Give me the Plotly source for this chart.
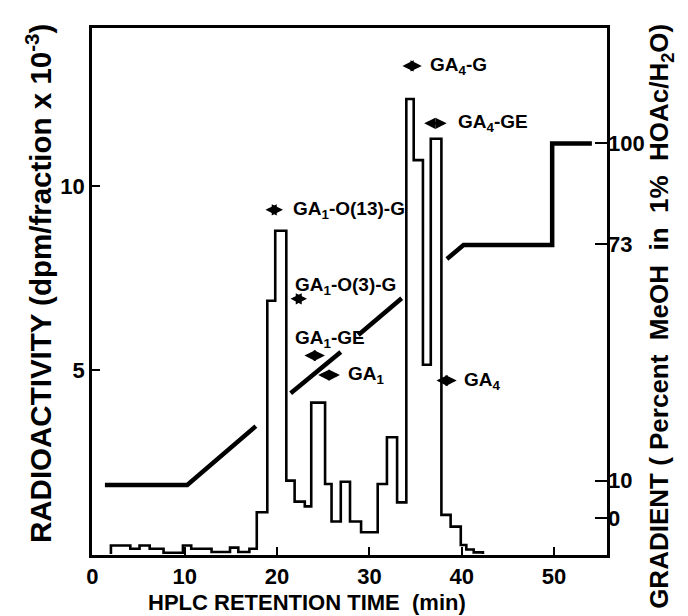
import plotly.graph_objects as go

# Histogram of radioactivity (fraction edges in min, values in dpm/fraction x 10^-3)
bin_edges = [2.0, 4.1, 5.1, 6.2, 7.7, 9.8, 10.7, 12.9, 14.9, 15.8, 17.0, 17.8, 18.94,
             19.8, 21.0, 21.9, 23.0, 23.7, 25.2, 25.9, 26.9, 27.9, 29.1, 30.9, 31.9,
             33.0, 34.0, 34.8, 35.8, 36.65, 37.8, 38.8, 39.9, 40.5, 41.3, 42.3]
radio_values = [0.23, 0.14, 0.23, 0.14, 0.03, 0.23, 0.14, 0.05, 0.17, 0.05, 0.14, 1.13,
                6.88, 8.78, 1.99, 1.42, 1.29, 4.11, 1.90, 0.88, 1.96, 0.88, 0.59, 1.90,
                3.17, 1.40, 12.36, 10.7, 5.14, 11.28, 1.06, 0.74, 0.24, 0.12, 0.04]

# Gradient line (percent MeOH), drawn in broken segments
grad_time = [1.35, 10.27, 17.7, None, 21.47, 26.9, None, 28.8, 33.5, None,
             38.4, 40.2, 49.8, 49.8, 54.1]
grad_pct = [8.8, 8.8, 24.5, None, 33.25, 44.3, None, 48.8, 58.6, None,
            69.1, 72.8, 72.8, 99.9, 99.9]

x_ticks = [0, 10, 20, 30, 40, 50]
left_ticks = [5, 10]
right_ticks = [0, 10, 73, 100]

FONT = "Liberation Sans"

hx = [bin_edges[0]] + bin_edges
hy = [0] + radio_values + [0]

fig = go.Figure()
fig.add_trace(go.Scatter(x=hx, y=hy, mode="lines", line=dict(color="black", width=2.6, shape="hv"),
                         showlegend=False, hoverinfo="skip"))
fig.add_trace(go.Scatter(x=grad_time, y=grad_pct, yaxis="y2", mode="lines",
                         line=dict(color="black", width=4.5), connectgaps=False,
                         showlegend=False, hoverinfo="skip"))

labels = [
    # text, arrow x0, x1, arrow y, text x, text y
    ("GA<sub>1</sub>-O(13)-G", 18.58, 20.64, 9.35, 21.5, 9.35),
    ("GA<sub>1</sub>-O(3)-G", 21.29, 23.24, 6.93, 21.72, 7.28),
    ("GA<sub>1</sub>-GE", 22.8, 25.19, 5.39, 21.69, 5.83),
    ("GA<sub>1</sub>", 24.29, 26.81, 4.86, 27.43, 4.86),
    ("GA<sub>4</sub>-G", 33.42, 35.67, 13.26, 36.32, 13.26),
    ("GA<sub>4</sub>-GE", 35.77, 38.37, 11.70, 39.38, 11.70),
    ("GA<sub>4</sub>", 37.1, 39.46, 4.71, 40.0, 4.71),
]
for txt, a0, a1, ay, tx, ty in labels:
    fig.add_annotation(x=a1, y=ay, ax=a0, ay=ay, xref="x", yref="y", axref="x", ayref="y",
                       text="", showarrow=True, arrowhead=2, arrowside="end+start",
                       arrowsize=0.9, arrowwidth=2.5, arrowcolor="black")
    fig.add_annotation(x=tx, y=ty, xref="x", yref="y", text=txt, showarrow=False,
                       xanchor="left", yanchor="middle",
                       font=dict(family=FONT, size=19, color="black", weight="bold"))

# Axis titles
fig.add_annotation(x=0.418, y=-0.091, xref="paper", yref="paper", showarrow=False,
                   text="HPLC RETENTION TIME  (min)", xanchor="center", yanchor="middle",
                   font=dict(family=FONT, size=22, color="black", weight="bold"))
fig.add_annotation(x=-0.105, y=0.516, xref="paper", yref="paper", showarrow=False, textangle=-90,
                   text="RADIOACTIVITY (dpm/fraction x 10<sup>-3</sup>)", xanchor="center", yanchor="middle",
                   font=dict(family=FONT, size=29.5, color="black", weight="bold"))
fig.add_annotation(x=1.105, y=0.452, xref="paper", yref="paper", showarrow=False, textangle=-90,
                   text="GRADIENT ( Percent  MeOH  in  1%  HOAc/H<sub>2</sub>O)", xanchor="center",
                   yanchor="middle", font=dict(family=FONT, size=26, color="black", weight="bold"))

fig.update_layout(
    width=680, height=608,
    margin=dict(l=84, r=81, t=20, b=61),
    paper_bgcolor="white", plot_bgcolor="white",
    font=dict(family=FONT, color="black", weight="bold"),
    xaxis=dict(range=[-0.05, 55.74], tickvals=x_ticks, ticks="inside", ticklen=8, tickwidth=2,
               tickcolor="black", showline=True, linecolor="black", linewidth=2.5, mirror=True,
               showgrid=False, zeroline=False, automargin=False,
               tickfont=dict(size=22, family=FONT, weight="bold")),
    yaxis=dict(range=[-0.03, 14.29], tickvals=left_ticks, ticks="inside", ticklen=8, tickwidth=2,
               tickcolor="black", showline=True, linecolor="black", linewidth=2.5, mirror=True,
               showgrid=False, zeroline=False, automargin=False, ticksuffix="\u00a0",
               tickfont=dict(size=22, family=FONT, weight="bold")),
    yaxis2=dict(range=[-9.87, 130.7], overlaying="y", side="right", tickvals=right_ticks,
                ticks="inside", ticklen=12, tickwidth=2, tickcolor="black", showline=False,
                showgrid=False, zeroline=False, automargin=False, tickprefix="\u00a0",
                tickfont=dict(size=22, family=FONT, weight="bold")),
)

fig.write_html("out.html")
